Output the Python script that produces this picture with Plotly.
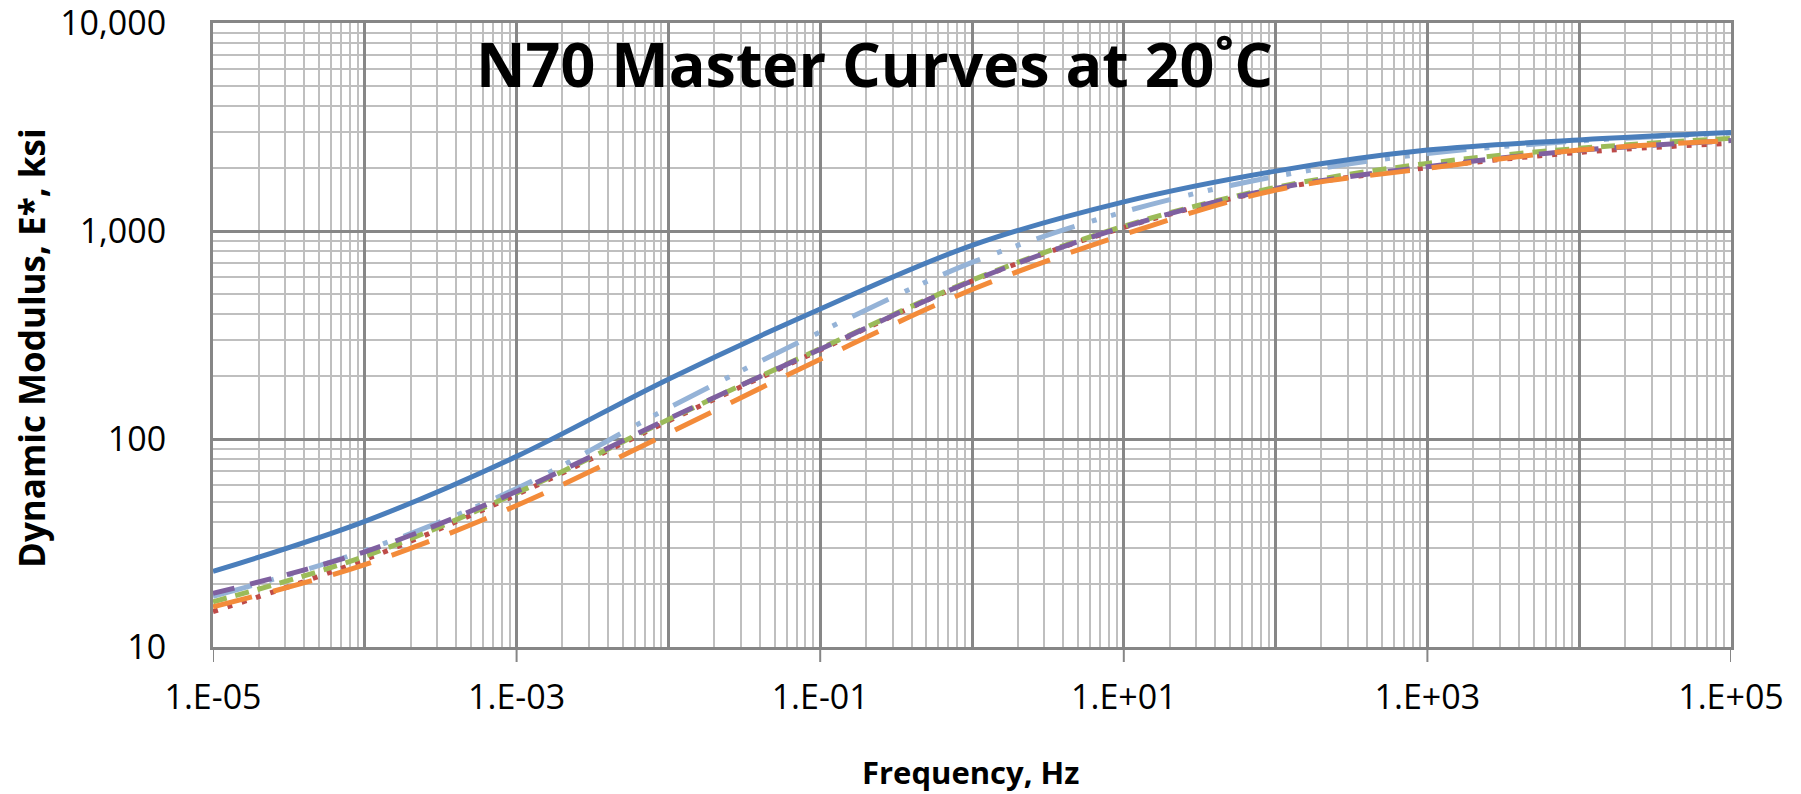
import plotly.graph_objects as go

# Frequency (Hz) at each decade
freq = [1e-5, 1e-4, 1e-3, 1e-2, 1e-1, 1e0, 1e1, 1e2, 1e3, 1e4, 1e5]

# Dynamic modulus |E*| (ksi)
s1 = [23.1, 40.2, 82.5, 194, 422, 853, 1381, 1941, 2449, 2740, 2973]
s2 = [17.5, 29.1, 57.8, 141, 327, 706, 1236, 1830, 2355, 2709, 2960]
s3 = [14.8, 26.3, 54.0, 122, 268, 575, 1040, 1590, 2016, 2388, 2641]
s4 = [16.5, 27.3, 55.0, 124, 272, 580, 1055, 1620, 2114, 2497, 2790]
s5 = [18.1, 28.7, 56.0, 125, 270, 575, 1045, 1600, 2038, 2440, 2720]
s6 = [15.6, 24.9, 47.9, 106.5, 242, 523, 961, 1572, 2000, 2449, 2720]

names = ["Series 1", "Series 2", "Series 3", "Series 4", "Series 5", "Series 6"]

x_tickvals = [1e-5, 1e-4, 1e-3, 1e-2, 1e-1, 1e0, 1e1, 1e2, 1e3, 1e4, 1e5]
x_ticktext = ["1.E-05", "", "1.E-03", "", "1.E-01", "", "1.E+01", "", "1.E+03", "", "1.E+05"]
y_tickvals = [10, 100, 1000, 10000]
y_ticktext = ["10", "100", "1,000", "10,000"]

title_text = "N70 Master Curves at 20˚C"
x_title = "Frequency, Hz"
y_title = "Dynamic Modulus, E*, ksi"

styles = [
    dict(color="#4A7EBB", dash="solid"),
    dict(color="#95B3D7", dash="40px,18px,5px,15px,5px,17px"),
    dict(color="#BE4B48", dash="5px,10px"),
    dict(color="#9BBB59", dash="14px,9px"),
    dict(color="#7F60A0", dash="22px,16px"),
    dict(color="#F38B3A", dash="40px,22px"),
]

W, H = 1801, 794
L, R, T, B = 213, 70, 23, 147
PW, PH = W - L - R, H - T - B


def px(xp):
    return (xp - L) / PW


def py(yp):
    return (H - B - yp) / PH


fig = go.Figure()
for ys, nm, st in zip([s2, s3, s4, s5, s6, s1], names[1:] + names[:1], styles[1:] + styles[:1]):
    fig.add_trace(go.Scatter(
        x=freq, y=ys, name=nm, mode="lines",
        line=dict(color=st["color"], dash=st["dash"], width=5, shape="spline", smoothing=1.0),
    ))

minor_x = [m * 10.0 ** d for d in range(-5, 5) for m in range(2, 10)]
minor_y = [m * 10.0 ** d for d in range(1, 4) for m in range(2, 10)]

font_family = "Open Sans, Liberation Sans, sans-serif"

# tick marks only at labelled decades
shapes = []
for v, t in zip(x_tickvals, x_ticktext):
    if t:
        shapes.append(dict(type="line", xref="x", yref="paper", x0=v, x1=v,
                           y0=0, y1=-15 / PH, line=dict(color="#868686", width=2)))

fig.update_layout(
    width=W, height=H,
    margin=dict(l=L, r=R, t=T, b=B),
    paper_bgcolor="white", plot_bgcolor="white",
    showlegend=False,
    font=dict(family=font_family, color="black"),
    xaxis=dict(
        type="log", range=[-5, 5], automargin=False,
        tickvals=x_tickvals, ticktext=x_ticktext,
        tickfont=dict(size=34, color="black"),
        ticks="", ticklabelstandoff=18, ticklabeloverflow="allow",
        showgrid=True, gridcolor="#878787", gridwidth=2.5,
        showline=True, linecolor="#868686", linewidth=3, mirror=True,
        minor=dict(tickvals=minor_x, showgrid=True, gridcolor="#BFBFBF", gridwidth=2, ticks=""),
        zeroline=False,
    ),
    yaxis=dict(
        type="log", range=[1, 4], automargin=False,
        tickvals=y_tickvals, ticktext=y_ticktext,
        tickfont=dict(size=34, color="black"),
        ticks="", ticklabelstandoff=37, ticklabeloverflow="allow",
        showgrid=True, gridcolor="#878787", gridwidth=2.5,
        showline=True, linecolor="#868686", linewidth=3, mirror=True,
        minor=dict(tickvals=minor_y, showgrid=True, gridcolor="#BFBFBF", gridwidth=2, ticks=""),
        zeroline=False,
    ),
    shapes=shapes,
    annotations=[
        dict(text="<b>" + title_text + "</b>", xref="paper", yref="paper",
             x=px(874), y=py(63), xanchor="center", yanchor="middle", showarrow=False,
             font=dict(size=61, color="black", family=font_family)),
        dict(text="<b>" + x_title + "</b>", xref="paper", yref="paper",
             x=px(970), y=py(772), xanchor="center", yanchor="middle", showarrow=False,
             font=dict(size=31, color="black", family=font_family)),
        dict(text="<b>" + y_title + "</b>", xref="paper", yref="paper", textangle=-90,
             x=px(32), y=py(348), xanchor="center", yanchor="middle", showarrow=False,
             font=dict(size=35, color="black", family=font_family)),
    ],
)

fig.write_html(
    "out.html",
    config={"displayModeBar": False},
    post_script="document.body.style.margin='0px';document.body.style.overflow='hidden';",
)
